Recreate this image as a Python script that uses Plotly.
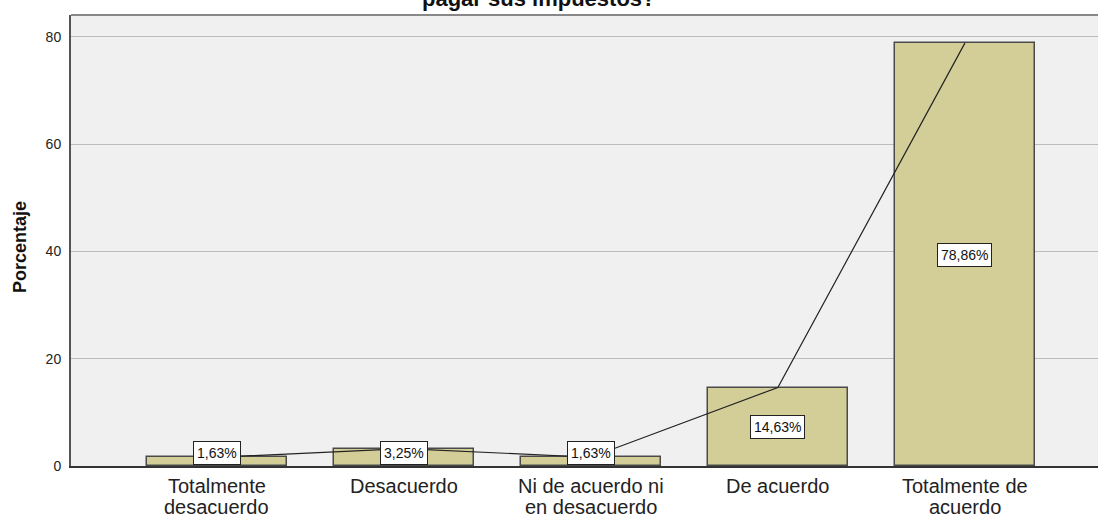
import plotly.graph_objects as go

categories = ["Totalmente<br>desacuerdo", "Desacuerdo", "Ni de acuerdo ni<br>en desacuerdo", "De acuerdo", "Totalmente de<br>acuerdo"]
values = [1.63, 3.25, 1.63, 14.63, 78.86]
labels = ["1,63%", "3,25%", "1,63%", "14,63%", "78,86%"]
y_ticks = [0, 20, 40, 60, 80]
title_text = "pagar sus impuestos?"
y_title = "Porcentaje"

x_idx = list(range(len(categories)))
FONT = "Arial, Liberation Sans"

fig = go.Figure()
fig.add_trace(go.Bar(
    x=x_idx, y=values, width=0.75,
    marker=dict(color="#d3ce98", line=dict(color="#4a4a4a", width=1.5)),
    hoverinfo="skip", showlegend=False,
))
fig.add_trace(go.Scatter(
    x=x_idx, y=values, mode="lines",
    line=dict(color="#222222", width=1.2),
    hoverinfo="skip", showlegend=False,
))

for xi, v, lab in zip(x_idx, values, labels):
    fig.add_annotation(
        x=xi, y=max(v / 2, 2.5), xref="x", yref="y", text=lab, showarrow=False,
        font=dict(family=FONT, size=14, color="#111111"),
        bgcolor="white", bordercolor="#222222", borderwidth=1, borderpad=3,
    )

# category labels (one annotation per line, tighter line spacing than plotly default)
for xi, cat in zip(x_idx, categories):
    for li, part in enumerate(cat.split("<br>")):
        fig.add_annotation(
            x=xi, y=0, xref="x", yref="paper", text=part, showarrow=False,
            xanchor="center", yanchor="middle", yshift=-20 - 21 * li,
            font=dict(family=FONT, size=20, color="#222222"),
        )

fig.add_annotation(
    x=0.4557, y=1.004, xref="paper", yref="paper", xanchor="center", yanchor="bottom",
    text="<b>" + title_text + "</b>", showarrow=False,
    font=dict(family=FONT, size=22, color="#111111"),
)
fig.add_annotation(
    x=-0.0497, y=0.4856, xref="paper", yref="paper", xanchor="center", yanchor="middle",
    text="<b>" + y_title + "</b>", showarrow=False, textangle=-90,
    font=dict(family=FONT, size=18, color="#111111"),
)

# top frame line
fig.add_shape(type="line", xref="paper", yref="paper", x0=0, x1=1, y0=1, y1=1,
              line=dict(color="#888888", width=2))

fig.update_layout(
    width=1098, height=515,
    margin=dict(l=71, r=0, t=15, b=49),
    paper_bgcolor="white", plot_bgcolor="#f0f0f0",
    font=dict(family=FONT, color="#222222"),
    bargap=0,
)
fig.update_xaxes(
    range=[-0.78, 4.712], tickvals=x_idx, showticklabels=False,
    showgrid=False, zeroline=False, automargin=False,
    showline=True, linecolor="#333333", linewidth=1.5, ticks="",
)
fig.update_yaxes(
    range=[0, 84.1], tickvals=y_ticks, automargin=False,
    tickfont=dict(size=14, color="#222222"),
    showgrid=True, gridcolor="#bcbcbc", gridwidth=1, zeroline=False,
    showline=True, linecolor="#555555", linewidth=2,
    ticks="outside", ticklen=5, tickcolor="rgba(0,0,0,0)",
)

fig.write_html(
    "out.html",
    config={"displayModeBar": False},
    post_script="document.body.style.margin='0';document.body.style.overflow='hidden';",
)
